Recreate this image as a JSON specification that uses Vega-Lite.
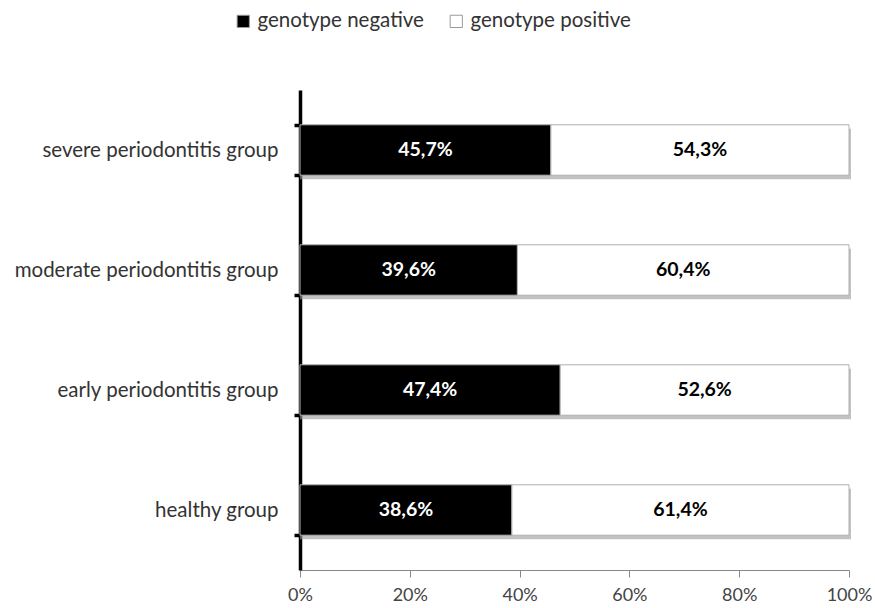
{
  "$schema": "https://vega.github.io/schema/vega-lite/v6.json",
  "autosize": "none",
  "width": 549,
  "height": 480,
  "padding": {"left": 300, "top": 90, "right": 26, "bottom": 38},
  "background": "white",
  "config": {
    "view": {"stroke": null},
    "font": "Lato",
    "locale": {"number": {"decimal": ",", "thousands": ".", "grouping": [3], "currency": ["", " €"]}}
  },
  "data": {
    "values": [
      {"group": "severe periodontitis group", "genotype": "genotype negative", "value": 0.457},
      {"group": "severe periodontitis group", "genotype": "genotype positive", "value": 0.543},
      {"group": "moderate periodontitis group", "genotype": "genotype negative", "value": 0.396},
      {"group": "moderate periodontitis group", "genotype": "genotype positive", "value": 0.604},
      {"group": "early periodontitis group", "genotype": "genotype negative", "value": 0.474},
      {"group": "early periodontitis group", "genotype": "genotype positive", "value": 0.526},
      {"group": "healthy group", "genotype": "genotype negative", "value": 0.386},
      {"group": "healthy group", "genotype": "genotype positive", "value": 0.614}
    ]
  },
  "encoding": {
    "y": {
      "field": "group",
      "type": "nominal",
      "sort": ["severe periodontitis group", "moderate periodontitis group", "early periodontitis group", "healthy group"],
      "scale": {"paddingInner": 0.58, "paddingOuter": 0.29},
      "axis": {
        "title": null,
        "domainColor": "black",
        "domainWidth": 3.5,
        "tickColor": "black",
        "tickWidth": 3.5,
        "tickSize": 6,
        "tickOffset": 0,
        "tickBand": "extent",
        "labelFontSize": 20.5,
        "labelColor": "#333333",
        "labelPadding": 16,
        "labelLimit": 0
      }
    }
  },
  "layer": [
    {
      "mark": {"type": "bar", "color": "#9a9a9a", "opacity": 0.6, "yOffset": 4, "xOffset": 2},
      "encoding": {
        "x": {"aggregate": "sum", "field": "value", "type": "quantitative", "scale": {"domain": [0, 1]}}
      }
    },
    {
      "mark": {"type": "bar", "stroke": "#b0b0b0", "strokeWidth": 1},
      "encoding": {
        "x": {
          "field": "value",
          "type": "quantitative",
          "stack": "normalize",
          "scale": {"domain": [0, 1]},
          "axis": {
            "title": null,
            "format": ".0%",
            "values": [0, 0.2, 0.4, 0.6, 0.8, 1],
            "grid": false,
            "labelOverlap": false,
            "labelFlush": false,
            "domainColor": "#888888",
            "tickColor": "#888888",
            "tickSize": 7,
            "labelFontSize": 18,
            "labelColor": "#444444",
            "labelPadding": 9
          }
        },
        "color": {
          "field": "genotype",
          "type": "nominal",
          "scale": {"domain": ["genotype negative", "genotype positive"], "range": ["#000000", "#ffffff"]},
          "legend": {
            "title": null,
            "orient": "none",
            "direction": "horizontal",
            "legendX": -67,
            "legendY": -79,
            "symbolType": "square",
            "symbolSize": 150,
            "symbolStrokeColor": "#999999",
            "symbolStrokeWidth": 1,
            "labelFontSize": 20.5,
            "labelColor": "#333333",
            "labelLimit": 0,
            "columnPadding": 22,
            "labelOffset": 4
          }
        }
      }
    },
    {
      "transform": [
        {"stack": "value", "groupby": ["group"], "offset": "normalize", "sort": [{"field": "genotype", "order": "ascending"}], "as": ["v0", "v1"]},
        {"calculate": "(datum.v0 + datum.v1) / 2", "as": "mid"}
      ],
      "mark": {"type": "text", "fontWeight": "bold", "fontSize": 19.5},
      "encoding": {
        "x": {"field": "mid", "type": "quantitative"},
        "text": {"field": "value", "type": "quantitative", "format": ".1%"},
        "color": {
          "field": "genotype",
          "type": "nominal",
          "scale": {"domain": ["genotype negative", "genotype positive"], "range": ["#ffffff", "#000000"]},
          "legend": null
        }
      }
    }
  ],
  "resolve": {"scale": {"color": "independent"}}
}
